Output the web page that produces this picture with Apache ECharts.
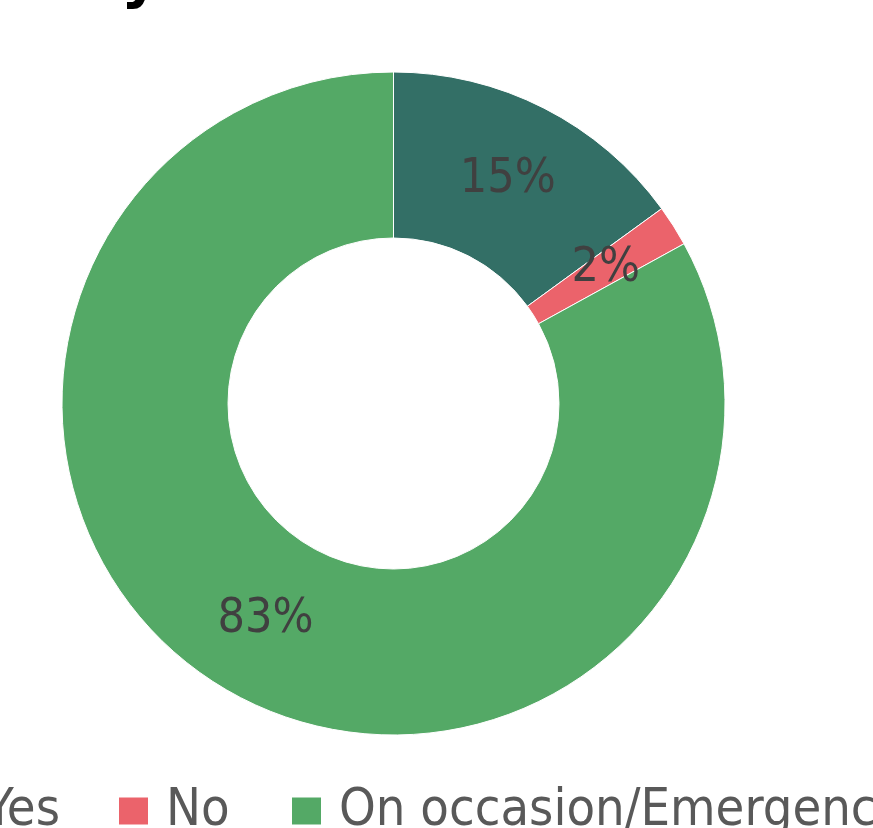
<!DOCTYPE html>
<html><head><meta charset="utf-8">
<script src="https://cdn.jsdelivr.net/npm/echarts@6/dist/echarts.min.js"></script>
<style>html,body{margin:0;padding:0;background:#fff}#c{width:873px;height:828px}</style>
</head><body><div id="c"></div>
<script>
const categories = ["Yes", "No", "On occasion/Emergency"];
const values = [15, 2, 83];
const colors = ["#336F66", "#EB636B", "#54A966"];

const font = "'Liberation Sans Narrow', 'DejaVu Sans Condensed', sans-serif";
const chart = echarts.init(document.getElementById('c'));
const legendBase = {
  orient: 'horizontal', padding: 0, top: 785,
  itemWidth: 31, itemHeight: 29, icon: 'rect',
  textStyle: { fontFamily: font, fontSize: 52, color: '#595959', padding: [0, 0, 0, 12], lineHeight: 29 }
};
chart.setOption({
  backgroundColor: '#ffffff',
  color: colors,
  graphic: [{
    type: 'text', left: 121, top: -50,
    style: { text: 'y', font: 'bold 60px "DejaVu Sans", sans-serif', fill: '#000' }
  }],
  legend: [
    Object.assign({}, legendBase, { data: [categories[0]], right: 873 - 60 }),
    Object.assign({}, legendBase, { data: [categories[1]], left: 117 }),
    Object.assign({}, legendBase, { data: [categories[2]], left: 290 })
  ],
  series: [{
    type: 'pie',
    center: [393.5, 403.5],
    radius: [165.5, 331.5],
    startAngle: 90,
    clockwise: true,
    avoidLabelOverlap: false,
    itemStyle: { borderColor: '#ffffff', borderWidth: 1 },
    label: {
      show: true, position: 'inside',
      formatter: p => p.value + '%',
      fontFamily: font, fontSize: 48, color: '#404040'
    },
    labelLine: { show: false },
    emphasis: { disabled: true },
    data: categories.map((n, i) => ({ name: n, value: values[i] }))
  }]
});
</script></body></html>
